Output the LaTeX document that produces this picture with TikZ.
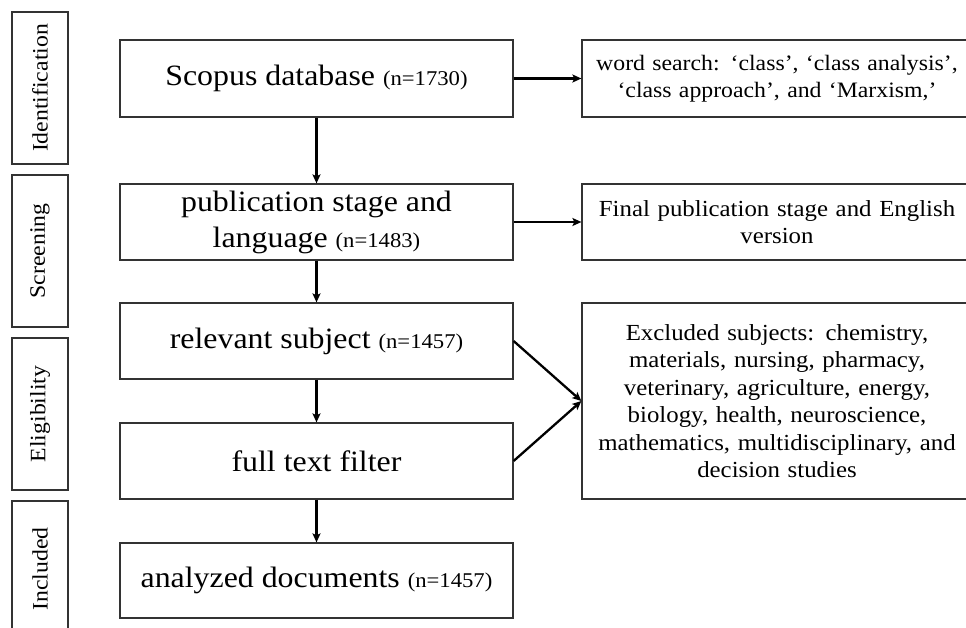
\documentclass[tikz,border=0pt]{standalone}
\usepackage{fontspec}
\setmainfont[FakeStretch=1.08]{Liberation Serif}
\usetikzlibrary{arrows.meta}

\tikzset{
  frame/.style={draw=black!80, line width=1.2pt, inner sep=0pt, align=center},
  mainbox/.style={frame, minimum width=393pt, minimum height=76pt,
    font=\fontsize{29.5}{37}\selectfont},
  sidebox/.style={frame, minimum width=390pt, text width=386pt,
    font=\fontsize{23}{27.5}\selectfont},
  phase/.style={frame, rotate=90, minimum height=56pt,
    font=\fontsize{22}{25}\selectfont},
  flow/.style={-{Stealth[length=9pt,width=8pt,inset=2pt]}, line width=2.3pt, black}
}
\newcommand\ncount[1]{{\fontsize{21}{25}\selectfont(n=#1)}}

\begin{document}
\begin{tikzpicture}[x=1pt, y=-1pt]
  \useasboundingbox (0,0) rectangle (966,628);

  % phase labels on the left
  \node[phase, minimum width=152pt] (pid)  at (40,88)  {Identification};
  \node[phase, minimum width=152pt] (psc)  at (40,251) {Screening};
  \node[phase, minimum width=152pt] (pel)  at (40,414) {Eligibility};
  \node[phase, minimum width=136pt] (pinc) at (40,569) {Included};

  % main flow
  \node[mainbox, minimum height=77pt] (scopus) at (316.5,78.5)
    {Scopus database \ncount{1730}};
  \node[mainbox] (pub) at (316.5,222)
    {publication stage and\\[-1pt] language \ncount{1483}};
  \node[mainbox] (rel) at (316.5,341)
    {relevant subject \ncount{1457}};
  \node[mainbox] (full) at (316.5,461)
    {full text filter};
  \node[mainbox, minimum height=75pt] (ana) at (316.5,580.5)
    {analyzed documents \ncount{1457}};

  % side notes
  \node[sidebox, minimum height=77pt, font=\fontsize{22}{27.5}\selectfont] (r1) at (777,78.5)
    {word search: ‘class’, ‘class analysis’,\\ ‘class approach’, and ‘Marxism,'};
  \node[sidebox, minimum height=76pt] (r2) at (777,222)
    {Final publication stage and English\\ version};
  \node[sidebox, minimum height=196pt] (r3) at (777,401)
    {Excluded subjects: chemistry,\\ materials, nursing, pharmacy,\\
     veterinary, agriculture, energy,\\ biology, health, neuroscience,\\
     mathematics, multidisciplinary, and\\ decision studies};

  % connectors
  \draw[flow] (scopus) -- (pub);
  \draw[flow] (pub) -- (rel);
  \draw[flow] (rel) -- (full);
  \draw[flow] (full) -- (ana);
  \draw[flow] (scopus) -- (r1);
  \draw[flow] (pub) -- (r2);
  \draw[flow] (rel.east) -- (r3.west);
  \draw[flow] (full.east) -- (r3.west);
\end{tikzpicture}
\end{document}
